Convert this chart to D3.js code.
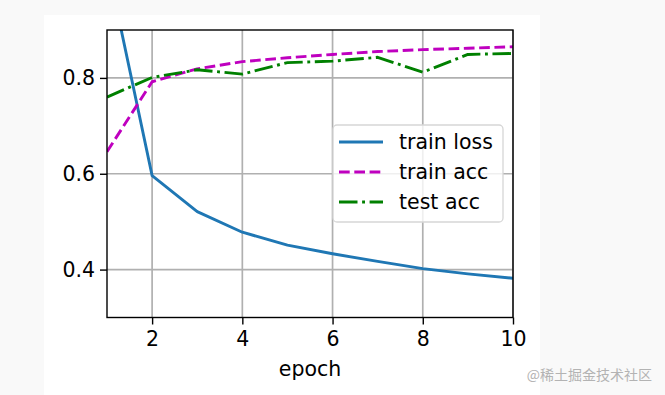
<!DOCTYPE html>
<html>
<head>
<meta charset="utf-8">
<script src="https://cdn.jsdelivr.net/npm/d3@7"></script>
<style>
html,body{margin:0;padding:0;background:#f9f9f9;}
svg{display:block;}
</style>
</head>
<body>
<svg id="chart" width="665" height="395"></svg>
<script>
const epochs = [1,2,3,4,5,6,7,8,9,10];
const trainLoss = [1.04,0.596,0.521,0.478,0.451,0.433,0.417,0.402,0.391,0.382];
const trainAcc  = [0.646,0.792,0.819,0.834,0.842,0.849,0.855,0.859,0.862,0.865];
const testAcc   = [0.760,0.801,0.817,0.808,0.832,0.835,0.843,0.812,0.849,0.851];
const xTicks = [2,4,6,8,10];
const yTicks = [0.4,0.6,0.8];
const seriesNames = ["train loss","train acc","test acc"];

const svg = d3.select("#chart");
const font = "DejaVu Sans, sans-serif";
const fs = 20.5;

svg.append("rect").attr("x",44).attr("y",15).attr("width",496).attr("height",380).attr("fill","#ffffff");

const L=107, R=513, T=30, B=317.5;
const x = d3.scaleLinear().domain([1,10]).range([L,R]);
const y = d3.scaleLinear().domain([0.3,0.9]).range([B,T]);

const defs = svg.append("defs");
defs.append("clipPath").attr("id","clip").append("rect")
  .attr("x",L).attr("y",T).attr("width",R-L).attr("height",B-T);

// grid
const g = svg.append("g");
g.selectAll(".gx").data(xTicks).enter().append("line")
  .attr("x1",d=>x(d)).attr("x2",d=>x(d)).attr("y1",T).attr("y2",B)
  .attr("stroke","#b0b0b0").attr("stroke-width",1.7);
g.selectAll(".gy").data(yTicks).enter().append("line")
  .attr("x1",L).attr("x2",R).attr("y1",d=>y(d)).attr("y2",d=>y(d))
  .attr("stroke","#b0b0b0").attr("stroke-width",1.7);

// lines
const line = d3.line().x((d,i)=>x(epochs[i])).y(d=>y(d));
const lw = 2.9;
const styles = [
  {data:trainLoss, color:"#1f77b4", dash:null},
  {data:trainAcc, color:"#bf00bf", dash:"10.7,4.6"},
  {data:testAcc, color:"#008000", dash:"18.5,4.6,2.9,4.6"}
];
const lg = svg.append("g").attr("clip-path","url(#clip)");
styles.forEach(s=>{
  lg.append("path").datum(s.data).attr("d",line)
    .attr("fill","none").attr("stroke",s.color).attr("stroke-width",lw)
    .attr("stroke-dasharray",s.dash).attr("stroke-linejoin","round");
});

// axes
const xAxis = d3.axisBottom(x).tickValues(xTicks).tickSize(7).tickPadding(4).tickFormat(d3.format("d"));
const yAxis = d3.axisLeft(y).tickValues(yTicks).tickSize(7).tickPadding(5).tickFormat(d3.format(".1f"));
const ax = svg.append("g").attr("transform",`translate(0,${B})`).call(xAxis);
const ay = svg.append("g").attr("transform",`translate(${L},0)`).call(yAxis);
[ax,ay].forEach(a=>{
  a.select(".domain").remove();
  a.selectAll(".tick line").attr("stroke","#000").attr("stroke-width",1.4);
  a.selectAll(".tick text").attr("font-family",font).attr("font-size",fs).attr("fill","#000");
});
ax.selectAll(".tick text").attr("dy","0.85em");

// frame
svg.append("rect").attr("x",L).attr("y",T).attr("width",R-L).attr("height",B-T)
  .attr("fill","none").attr("stroke","#000").attr("stroke-width",1.4);

// x label
svg.append("text").attr("x",(L+R)/2).attr("y",376).attr("text-anchor","middle")
  .attr("font-family",font).attr("font-size",fs).attr("fill","#000").text("epoch");

// legend
const leg = svg.append("g");
leg.append("rect").attr("x",333).attr("y",125).attr("width",170).attr("height",97)
  .attr("rx",4).attr("fill","#fff").attr("fill-opacity",0.8)
  .attr("stroke","#d6d6d6").attr("stroke-width",1.3);
const legY = d3.scalePoint().domain(seriesNames).range([142,202]);
seriesNames.forEach((n,i)=>{
  const s = styles[i];
  leg.append("line").attr("x1",339).attr("x2",383).attr("y1",legY(n)).attr("y2",legY(n))
    .attr("stroke",s.color).attr("stroke-width",lw).attr("stroke-dasharray",s.dash);
  leg.append("text").attr("x",399).attr("y",legY(n)).attr("dy","0.35em")
    .attr("font-family",font).attr("font-size",fs).attr("fill","#000").text(n);
});

// watermark
svg.append("text").attr("x",652).attr("y",380).attr("text-anchor","end")
  .attr("font-family","Noto Sans CJK SC, sans-serif").attr("font-size",14)
  .attr("fill","#b3b3b3").text("@稀土掘金技术社区");
</script>
</body>
</html>
